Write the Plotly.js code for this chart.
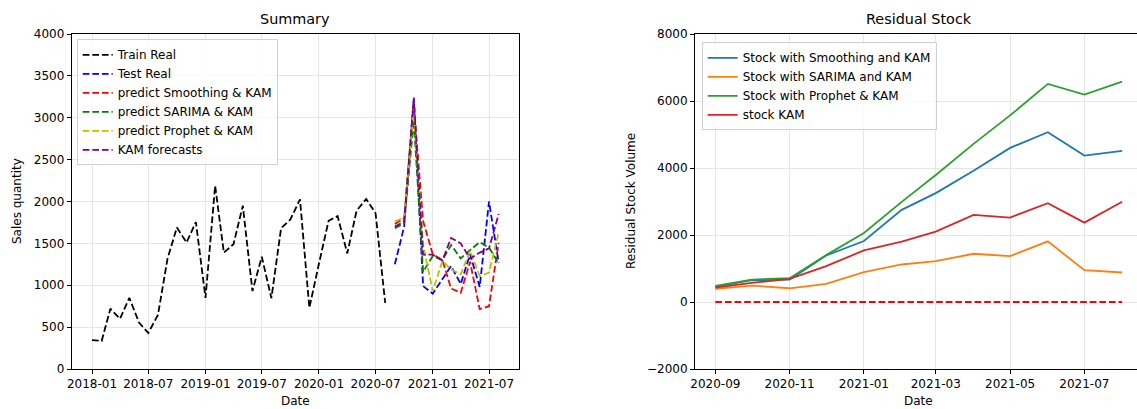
<!DOCTYPE html>
<html>
<head>
<meta charset="utf-8">
<script src="https://cdn.plot.ly/plotly-3.0.1.min.js"></script>
<style>html,body{margin:0;padding:0;background:#fff;}#chart{width:1137px;height:409px;}</style>
</head>
<body>
<div id="chart"></div>
<script>
// ---------- Left chart: Summary ----------
const trainDates = [
  '2018-01-01','2018-02-01','2018-03-01','2018-04-01','2018-05-01','2018-06-01','2018-07-01','2018-08-01','2018-09-01','2018-10-01','2018-11-01','2018-12-01',
  '2019-01-01','2019-02-01','2019-03-01','2019-04-01','2019-05-01','2019-06-01','2019-07-01','2019-08-01','2019-09-01','2019-10-01','2019-11-01','2019-12-01',
  '2020-01-01','2020-02-01','2020-03-01','2020-04-01','2020-05-01','2020-06-01','2020-07-01','2020-08-01'];
const trainReal = [345, 335, 720, 600, 850, 555, 430, 645, 1320, 1690, 1510, 1755,
  850, 2190, 1390, 1490, 1950, 930, 1340, 845, 1680, 1785, 2025, 730,
  1260, 1770, 1825, 1380, 1890, 2030, 1860, 790];

const testDates = ['2020-09-01','2020-10-01','2020-11-01','2020-12-01','2021-01-01','2021-02-01',
  '2021-03-01','2021-04-01','2021-05-01','2021-06-01','2021-07-01','2021-08-01'];
const testReal        = [1250, 1700, 3230, 990, 900, 1070, 1230, 1015, 1370, 980, 2000, 1270];
const predSmoothing   = [1730, 1800, 3150, 1766, 1370, 1300, 960, 910, 1280, 715, 750, 1510];
const predSarima      = [1680, 1740, 2970, 1160, 1350, 1300, 1480, 1320, 1420, 1515, 1450, 1260];
const predProphet     = [1760, 1810, 3100, 1480, 930, 1290, 1190, 1130, 1410, 1110, 1150, 1630];
const kamForecasts    = [1700, 1760, 3240, 1365, 1365, 1295, 1565, 1500, 1320, 1390, 1440, 1850];

// ---------- Right chart: Residual Stock ----------
const stockDates = testDates;
const stockSmoothing = [450, 650, 670, 1390, 1820, 2750, 3250, 3920, 4600, 5070, 4370, 4510];
const stockSarima    = [390, 490, 410, 540, 890, 1120, 1220, 1440, 1370, 1810, 950, 880];
const stockProphet   = [480, 670, 710, 1400, 2060, 2990, 3790, 4720, 5570, 6510, 6190, 6580];
const stockKam       = [430, 570, 690, 1070, 1540, 1800, 2100, 2600, 2520, 2950, 2370, 2990];
const zeroLine       = [0, 0, 0, 0, 0, 0, 0, 0, 0, 0, 0, 0];

const DASH = '6.7px,2.9px';
const LW = 1.8;
function dashed(x, y, name, color, legend) {
  return {x: x, y: y, name: name, type: 'scatter', mode: 'lines',
    line: {color: color, width: LW, dash: DASH}, xaxis: 'x', yaxis: 'y', legend: legend};
}
function solid(x, y, name, color) {
  return {x: x, y: y, name: name, type: 'scatter', mode: 'lines',
    line: {color: color, width: LW}, xaxis: 'x2', yaxis: 'y2', legend: 'legend2'};
}

const traces = [
  dashed(trainDates, trainReal, 'Train Real', '#000000', 'legend'),
  dashed(testDates, testReal, 'Test Real', '#0000ff', 'legend'),
  dashed(testDates, predSmoothing, 'predict Smoothing & KAM', '#ff0000', 'legend'),
  dashed(testDates, predSarima, 'predict SARIMA & KAM', '#008000', 'legend'),
  dashed(testDates, predProphet, 'predict Prophet & KAM', '#bfbf00', 'legend'),
  dashed(testDates, kamForecasts, 'KAM forecasts', '#800080', 'legend'),
  solid(stockDates, stockSmoothing, 'Stock with Smoothing and KAM', '#1f77b4'),
  solid(stockDates, stockSarima, 'Stock with SARIMA and KAM', '#ff7f0e'),
  solid(stockDates, stockProphet, 'Stock with Prophet & KAM', '#2ca02c'),
  solid(stockDates, stockKam, 'stock KAM', '#d62728'),
  {x: stockDates, y: zeroLine, type: 'scatter', mode: 'lines', showlegend: false,
   line: {color: '#ff0000', width: LW, dash: DASH}, xaxis: 'x2', yaxis: 'y2'}
];

const W = 1137, H = 409, MT = 34, MB = 40;
const PH = H - MT - MB;
const px = v => v / W;
const py = v => (H - MB - v) / PH;

const FONT = {family: 'DejaVu Sans, sans-serif', size: 12, color: '#000'};
const GRID = '#e6e6e6';
const axisCommon = {showline: true, linecolor: '#000', linewidth: 1, ticks: 'outside', ticklen: 4,
  tickwidth: 1, tickcolor: '#000', showgrid: true, gridcolor: GRID, gridwidth: 1, zeroline: false,
  tickfont: FONT, fixedrange: true};

const legendCommon = {xanchor: 'left', yanchor: 'top', bgcolor: 'rgba(255,255,255,0.8)',
  bordercolor: '#d0d0d0', borderwidth: 1, font: FONT};

const layout = {
  width: W, height: H,
  margin: {l: 0, r: 0, t: MT, b: MB},
  paper_bgcolor: '#fff', plot_bgcolor: '#fff',
  font: FONT,
  showlegend: true,
  xaxis: Object.assign({}, axisCommon, {domain: [px(71.7), px(519)], anchor: 'y', mirror: true,
    type: 'date', range: ['2017-10-27 14:24', '2021-10-05 09:36'],
    tick0: '2018-01-01', dtick: 'M6', tickformat: '%Y-%m'}),
  yaxis: Object.assign({}, axisCommon, {domain: [0, 1], anchor: 'x', mirror: true,
    range: [0, 4000], tick0: 0, dtick: 500}),
  xaxis2: Object.assign({}, axisCommon, {domain: [px(695), 1], anchor: 'y2', mirror: true,
    type: 'date', range: ['2020-08-15 07:12', '2021-08-13 05:00'],
    tick0: '2020-09-01', dtick: 'M2', tickformat: '%Y-%m'}),
  yaxis2: Object.assign({}, axisCommon, {domain: [0, 1], anchor: 'x2', mirror: false,
    range: [-2000, 8000], tick0: -2000, dtick: 2000}),
  legend: Object.assign({}, legendCommon, {x: px(76.7), y: py(39.3)}),
  legend2: Object.assign({}, legendCommon, {x: px(701.7), y: py(42.3)}),
  annotations: [
    {text: 'Summary', xref: 'paper', yref: 'paper', x: px(295.4), y: py(19), xanchor: 'center', yanchor: 'middle',
     showarrow: false, font: {family: FONT.family, size: 14.4, color: '#000'}},
    {text: 'Residual Stock', xref: 'paper', yref: 'paper', x: px(918.7), y: py(19), xanchor: 'center', yanchor: 'middle',
     showarrow: false, font: {family: FONT.family, size: 14.4, color: '#000'}},
    {text: 'Date', xref: 'paper', yref: 'paper', x: px(295.4), y: py(401), xanchor: 'center', yanchor: 'middle',
     showarrow: false, font: FONT},
    {text: 'Date', xref: 'paper', yref: 'paper', x: px(918.7), y: py(401), xanchor: 'center', yanchor: 'middle',
     showarrow: false, font: FONT},
    {text: 'Sales quantity', xref: 'paper', yref: 'paper', x: px(17), y: py(201), xanchor: 'center', yanchor: 'middle',
     textangle: -90, showarrow: false, font: FONT},
    {text: 'Residual Stock Volume', xref: 'paper', yref: 'paper', x: px(631), y: py(201), xanchor: 'center', yanchor: 'middle',
     textangle: -90, showarrow: false, font: FONT}
  ]
};

Plotly.newPlot('chart', traces, layout, {staticPlot: true, displayModeBar: false});
</script>
</body>
</html>
